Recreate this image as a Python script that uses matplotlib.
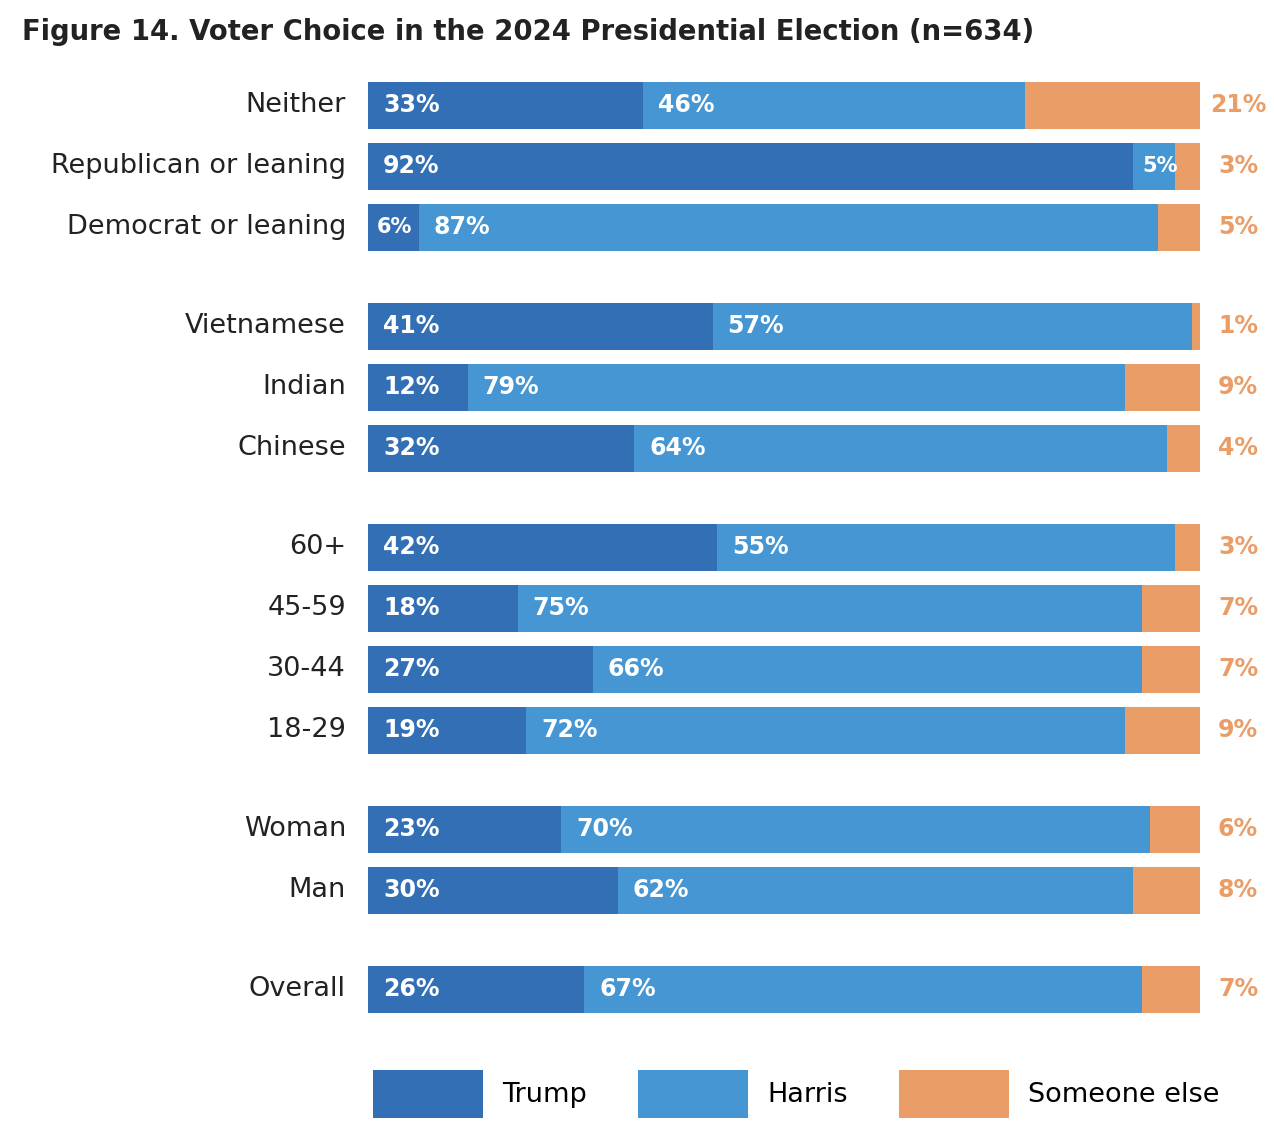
import numpy as np
import matplotlib
matplotlib.use("Agg")
import matplotlib.pyplot as plt

plt.rcParams['font.family'] = ['DejaVu Sans']

# data
groups = [
    ["Neither", "Republican or leaning", "Democrat or leaning"],
    ["Vietnamese", "Indian", "Chinese"],
    ["60+", "45-59", "30-44", "18-29"],
    ["Woman", "Man"],
    ["Overall"],
]
trump = [33, 92, 6, 41, 12, 32, 42, 18, 27, 19, 23, 30, 26]
harris = [46, 5, 87, 57, 79, 64, 55, 75, 66, 72, 70, 62, 67]
someone = [21, 3, 5, 1, 9, 4, 3, 7, 7, 9, 6, 8, 7]
series_names = ["Trump", "Harris", "Someone else"]

c_trump = "#336FB4"
c_harris = "#4596D2"
c_else = "#EA9D67"

W, H = 1274, 1140
fig = plt.figure(figsize=(W / 100, H / 100), dpi=100)
x0, x1 = 368, 1200
ax = fig.add_axes([x0 / W, 0, (x1 - x0) / W, 1])
ax.set_xlim(0, 100)
ax.set_ylim(H, 0)
ax.axis("off")

# row centres in pixel units (layout)
labels = []
ypos = []
first, step, gap = 105, 61, 38
i = 0
for g, rows in enumerate(groups):
    for r in rows:
        labels.append(r)
        ypos.append(first + i * step + g * gap)
        i += 1

trump = np.array(trump, float)
harris = np.array(harris, float)
someone = np.array(someone, float)
tot = trump + harris + someone
t_w = trump / tot * 100
h_w = harris / tot * 100
s_w = someone / tot * 100

bh = 47
ax.barh(ypos, t_w, height=bh, color=c_trump, label=series_names[0])
ax.barh(ypos, h_w, left=t_w, height=bh, color=c_harris, label=series_names[1])
ax.barh(ypos, s_w, left=t_w + h_w, height=bh, color=c_else, label=series_names[2])

px = 100 / (x1 - x0)
for k, y in enumerate(ypos):
    ax.text(-22 * px, y, labels[k], ha="right", va="center", fontsize=19.5, color="#222222")
    for left, val in [(0, trump[k]), (t_w[k], harris[k])]:
        small = val < 8
        ax.text(left + (9 if small else 15) * px, y, f"{val:.0f}%", ha="left", va="center",
                fontsize=15 if small else 17, fontweight="bold", color="white")
    ax.text(100 + 38 * px, y, f"{someone[k]:.0f}%", ha="center", va="center",
            fontsize=17, fontweight="bold", color=c_else)

fig.text(22 / W, 1 - 32 / H, "Figure 14. Voter Choice in the 2024 Presidential Election (n=634)",
         ha="left", va="center", fontsize=19.8, fontweight="bold", color="#222222")

ax.legend(loc="center left", bbox_to_anchor=(373 / W, 1 - 1094 / H), bbox_transform=fig.transFigure,
          ncol=3, frameon=False, fontsize=19.5, handlelength=4.06, handleheight=2.35,
          handletextpad=0.7, columnspacing=1.9, borderpad=0, borderaxespad=0)

fig.savefig("out.png", dpi=100)
